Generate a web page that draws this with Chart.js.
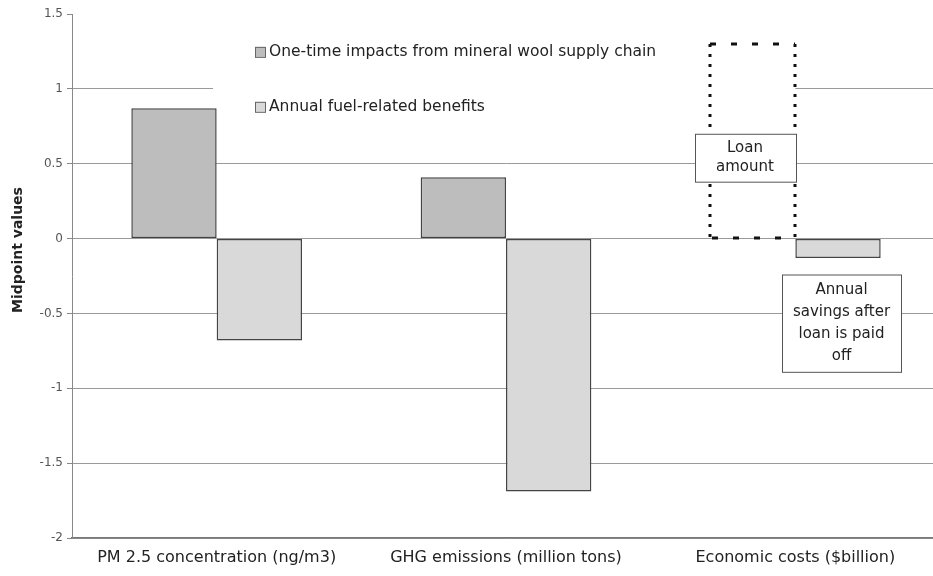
<!DOCTYPE html>
<html>
<head>
<meta charset="utf-8">
<script src="https://cdn.jsdelivr.net/npm/chart.js@4.4.1/dist/chart.umd.min.js"></script>
<style>
  html, body { margin: 0; padding: 0; background: #fff; overflow: hidden; }
  .wrap { width: 940px; height: 576px; }
</style>
</head>
<body>
<div class="wrap"><canvas id="chart1"></canvas></div>
<script>
// data
const categories = ['PM 2.5 concentration (ng/m3)', 'GHG emissions (million tons)', 'Economic costs ($billion)'];
const oneTimeImpacts = [0.87, 0.41, 1.3];   // last one is the loan amount (dotted box)
const annualBenefits = [-0.68, -1.69, -0.13];
const seriesNames = ['One-time impacts from mineral wool supply chain', 'Annual fuel-related benefits'];
const yTicks = [1.5, 1, 0.5, 0, -0.5, -1, -1.5, -2];

const darkGrey = '#bdbdbd';
const lightGrey = '#d9d9d9';
const edge = '#444';
const fontName = '"DejaVu Sans", Verdana, sans-serif';

// legend, loan box, text boxes and y title drawn by hand
const notesPlugin = {
    id: 'notes',
    beforeDatasetsDraw(chart) {
        const ctx = chart.ctx;
        const y = chart.scales.y;
        ctx.save();
        // white legend panel hides part of the grid
        ctx.fillStyle = '#fff';
        ctx.fillRect(213, y.getPixelForValue(1.5), 498, y.getPixelForValue(0.76) - y.getPixelForValue(1.5));
        ctx.restore();
    },
    afterDatasetsDraw(chart) {
        const ctx = chart.ctx;
        const y = chart.scales.y;
        ctx.save();

        // y axis title
        ctx.save();
        ctx.translate(18, 250);
        ctx.rotate(-Math.PI / 2);
        ctx.font = 'bold 14px ' + fontName;
        ctx.fillStyle = '#222';
        ctx.textAlign = 'center';
        ctx.textBaseline = 'middle';
        ctx.fillText('Midpoint values', 0, 0);
        ctx.restore();

        // legend
        ctx.font = '15.5px ' + fontName;
        ctx.textBaseline = 'middle';
        const legendX = 255;
        const rows = [y.getPixelForValue(1.247), y.getPixelForValue(0.88)];
        const fills = [darkGrey, lightGrey];
        for (let i = 0; i < 2; i++) {
            ctx.fillStyle = fills[i];
            ctx.fillRect(legendX, rows[i] - 5, 10, 10);
            ctx.strokeStyle = '#666';
            ctx.lineWidth = 1;
            ctx.strokeRect(legendX + 0.5, rows[i] - 4.5, 10, 10);
            ctx.fillStyle = '#222';
            ctx.fillText(seriesNames[i], legendX + 14, rows[i]);
        }

        // dotted outline for the loan amount bar
        const loan = chart.getDatasetMeta(0).data[2];
        const left = Math.round(loan.x - loan.width / 2);
        const right = Math.round(loan.x + loan.width / 2);
        const top = Math.round(loan.y);
        const bottom = Math.round(loan.base);
        ctx.strokeStyle = '#111';
        ctx.lineWidth = 3;
        ctx.setLineDash([6, 15]);
        ctx.beginPath();
        ctx.moveTo(left, top); ctx.lineTo(right, top);
        ctx.moveTo(left + 2, bottom); ctx.lineTo(right, bottom);
        ctx.stroke();
        ctx.setLineDash([3, 7]);
        ctx.beginPath();
        ctx.moveTo(left, top); ctx.lineTo(left, bottom);
        ctx.moveTo(right, top); ctx.lineTo(right, bottom);
        ctx.stroke();
        ctx.setLineDash([]);

        // "Loan amount" box
        ctx.font = '15px ' + fontName;
        ctx.textAlign = 'center';
        ctx.lineWidth = 1;
        ctx.strokeStyle = '#555';
        const lbTop = y.getPixelForValue(0.7);
        const lbBottom = y.getPixelForValue(0.38);
        ctx.fillStyle = '#fff';
        ctx.fillRect(left - 15, lbTop, right - left + 16, lbBottom - lbTop);
        ctx.strokeRect(left - 15 + 0.5, lbTop + 0.5, right - left + 16, lbBottom - lbTop);
        ctx.fillStyle = '#222';
        const lbMid = (left - 15 + right) / 2;
        ctx.fillText('Loan', lbMid, lbTop + 14);
        ctx.fillText('amount', lbMid, lbTop + 33);

        // "Annual savings..." box
        const sav = chart.getDatasetMeta(1).data[2];
        const sLeft = Math.round(sav.x - sav.width / 2) - 13;
        const sRight = sLeft + 119;
        const sTop = y.getPixelForValue(-0.24);
        const sBottom = y.getPixelForValue(-0.89);
        ctx.fillStyle = '#fff';
        ctx.fillRect(sLeft, sTop, sRight - sLeft, sBottom - sTop);
        ctx.strokeRect(sLeft + 0.5, sTop + 0.5, sRight - sLeft, sBottom - sTop);
        ctx.fillStyle = '#222';
        const lines = ['Annual', 'savings after', 'loan is paid', 'off'];
        for (let i = 0; i < lines.length; i++) {
            ctx.fillText(lines[i], (sLeft + sRight) / 2, sTop + 16 + i * 22);
        }
        ctx.restore();
    }
};

const chartOne = document.getElementById('chart1');

new Chart(chartOne, {
    type: 'bar',
    data: {
        labels: categories,
        datasets: [{
            label: seriesNames[0],
            data: oneTimeImpacts,
            backgroundColor: [darkGrey, darkGrey, '#fff'],
            borderColor: edge,
            borderWidth: [1.5, 1.5, 0],
            borderSkipped: false
        }, {
            label: seriesNames[1],
            data: annualBenefits,
            backgroundColor: lightGrey,
            borderColor: edge,
            borderWidth: 1.5,
            borderSkipped: false
        }]
    },
    options: {
        responsive: true,
        maintainAspectRatio: false,
        animation: false,
        layout: { padding: { top: 14, right: 0, left: 0, bottom: 0 } },
        datasets: {
            bar: { categoryPercentage: 0.59, barPercentage: 1 }
        },
        plugins: {
            legend: { display: false },
            tooltip: { enabled: false }
        },
        scales: {
            x: {
                grid: { display: false, drawTicks: false },
                border: { color: '#777', width: 1.5 },
                ticks: {
                    color: '#222',
                    font: { family: fontName, size: 16 },
                    padding: 10,
                    maxRotation: 0,
                    autoSkip: false
                },
                afterFit(scale) { scale.height = 38; }
            },
            y: {
                min: -2,
                max: 1.5,
                afterBuildTicks(scale) {
                    scale.ticks = yTicks.map(v => ({ value: v }));
                },
                afterFit(scale) { scale.width = 72; },
                grid: {
                    color: ctx => (ctx.tick && ctx.tick.value === 1.5) ? 'rgba(0,0,0,0)' : '#9a9a9a',
                    lineWidth: 1,
                    tickLength: 5,
                    tickColor: '#888'
                },
                border: { color: '#888', width: 1 },
                ticks: {
                    color: '#555',
                    font: { family: fontName, size: 12 },
                    padding: 4,
                    callback: value => String(value)
                }
            }
        }
    },
    plugins: [notesPlugin]
});
</script>
</body>
</html>
